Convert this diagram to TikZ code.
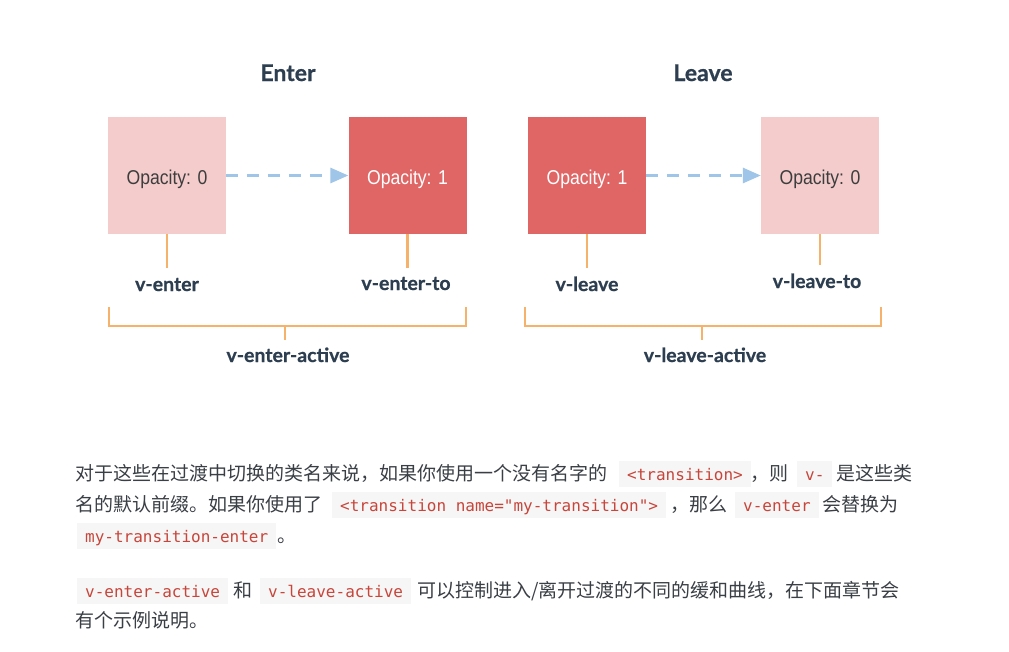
\documentclass[tikz,border=0pt]{standalone}
\usepackage{fontspec}
\setmainfont{Lato}
\newfontfamily\clsfont[BoldFeatures={FakeBold=0.7}]{Lato}
\newfontfamily\cjkfont{Noto Sans CJK SC}
\newfontfamily\opfont[FakeStretch=0.88]{Liberation Sans}
\newfontfamily\codefont{DejaVu Sans Mono}
\usetikzlibrary{arrows.meta}
\definecolor{pinkbox}{HTML}{F4CCCC}
\definecolor{redbox}{HTML}{E06666}
\definecolor{flowblue}{HTML}{9FC5E8}
\definecolor{tickorange}{HTML}{F6B26B}
\definecolor{darktext}{HTML}{2C3E50}
\definecolor{optext}{HTML}{3D3D3D}
\definecolor{bodytext}{HTML}{3A3F45}
\definecolor{codered}{HTML}{C7453A}
\definecolor{codebg}{HTML}{F6F6F6}
\begin{document}
\begin{tikzpicture}[x=1pt,y=-1pt,
 box/.style={minimum width=118pt,minimum height=117pt,inner sep=0pt,text height=17pt,text depth=0pt,font=\opfont\fontsize{20}{24}\selectfont},
 softbox/.style={box,fill=pinkbox,text=optext},
 hardbox/.style={box,fill=redbox,text=white},
 flow/.style={draw=flowblue,line width=3pt,dash pattern=on 12pt off 9pt,-{Triangle[length=18pt,width=15pt]}},
 tick/.style={draw=tickorange,line width=2.5pt},
 title/.style={font=\clsfont\bfseries\fontsize{23}{28}\selectfont,text=darktext,anchor=base,inner sep=0pt},
 cls/.style={font=\clsfont\bfseries\fontsize{19.5}{24}\selectfont,text=darktext,anchor=base,inner sep=0pt},
 zh/.style={font=\cjkfont\fontsize{19}{24}\selectfont,text=bodytext,anchor=base west,inner sep=0pt},
 code/.style={font=\codefont\fontsize{16}{20}\selectfont,text=codered,fill=codebg,anchor=base west,inner xsep=8pt,inner ysep=0pt,text height=19pt,text depth=7pt},
]
\useasboundingbox[fill=white] (0,0) rectangle (1009,651);

% titles
\node[title] (tenter) at (288,81) {Enter};
\node[title] (tleave) at (703,81) {Leave};

% boxes
\node[softbox] (b1) at (167,175.5) {Opacity: 0};
\node[hardbox] (b2) at (407.5,175.5) {Opacity: 1};
\node[hardbox] (b3) at (587,175.5) {Opacity: 1};
\node[softbox] (b4) at (820,175.5) {Opacity: 0};

% arrows
\draw[flow] (b1.east) -- (b2.west);
\draw[flow] (b3.east) -- (b4.west);

% ticks
\coordinate (t1) at (167,268);
\coordinate (t2) at (407.5,268);
\coordinate (t3) at (587,268);
\coordinate (t4) at (820,265);
\draw[tick] (b1.south) -- (t1);
\draw[tick] (b2.south) -- (t2);
\draw[tick] (b3.south) -- (t3);
\draw[tick] (b4.south) -- (t4);

% labels
\node[cls] (l1) at (167,291) {v-enter};
\node[cls] (l2) at (406,290) {v-enter-to};
\node[cls] (l3) at (587,291) {v-leave};
\node[cls] (l4) at (817,288) {v-leave-to};

% brackets
\coordinate (eb1) at (109,307);
\coordinate (eb2) at (466,307);
\coordinate (ebm) at (285,326);
\coordinate (ebt) at (285,340);
\draw[tick] (eb1) |- (ebm) -| (eb2);
\draw[tick] (ebm) -- (ebt);
\coordinate (lb1) at (525,307);
\coordinate (lb2) at (881,307);
\coordinate (lbm) at (702,326);
\coordinate (lbt) at (702,340);
\draw[tick] (lb1) |- (lbm) -| (lb2);
\draw[tick] (lbm) -- (lbt);

\node[cls] (ea) at (288,362) {v-enter-active};
\node[cls] (la) at (705,362) {v-leave-active};

% paragraph 1
\node[zh] (p1a) at (75,480) {对于这些在过渡中切换的类名来说，如果你使用一个没有名字的};
\node[code] (p1b) at (619,480) {<transition>};
\node[zh] (p1c) at (750,480) {，则};
\node[code] (p1d) at (797,480) {v-};
\node[zh] (p1e) at (836,480) {是这些类};

\node[zh] (p2a) at (75,511) {名的默认前缀。如果你使用了};
\node[code] (p2b) at (332,511) {<transition name="my-transition">};
\node[zh] (p2c) at (670,511) {，那么};
\node[code] (p2d) at (735,511) {v-enter};
\node[zh] (p2e) at (822,511) {会替换为};

\node[code] (p3a) at (77,542) {my-transition-enter};
\node[zh] (p3b) at (277,542) {。};

% paragraph 2
\node[code] (q1a) at (77,597) {v-enter-active};
\node[zh] (q1b) at (233,597) {和};
\node[code] (q1c) at (260,597) {v-leave-active};
\node[zh] (q1d) at (417,597) {可以控制进入/离开过渡的不同的缓和曲线，在下面章节会};
\node[zh] (q2a) at (75,627) {有个示例说明。};
\end{tikzpicture}
\end{document}
